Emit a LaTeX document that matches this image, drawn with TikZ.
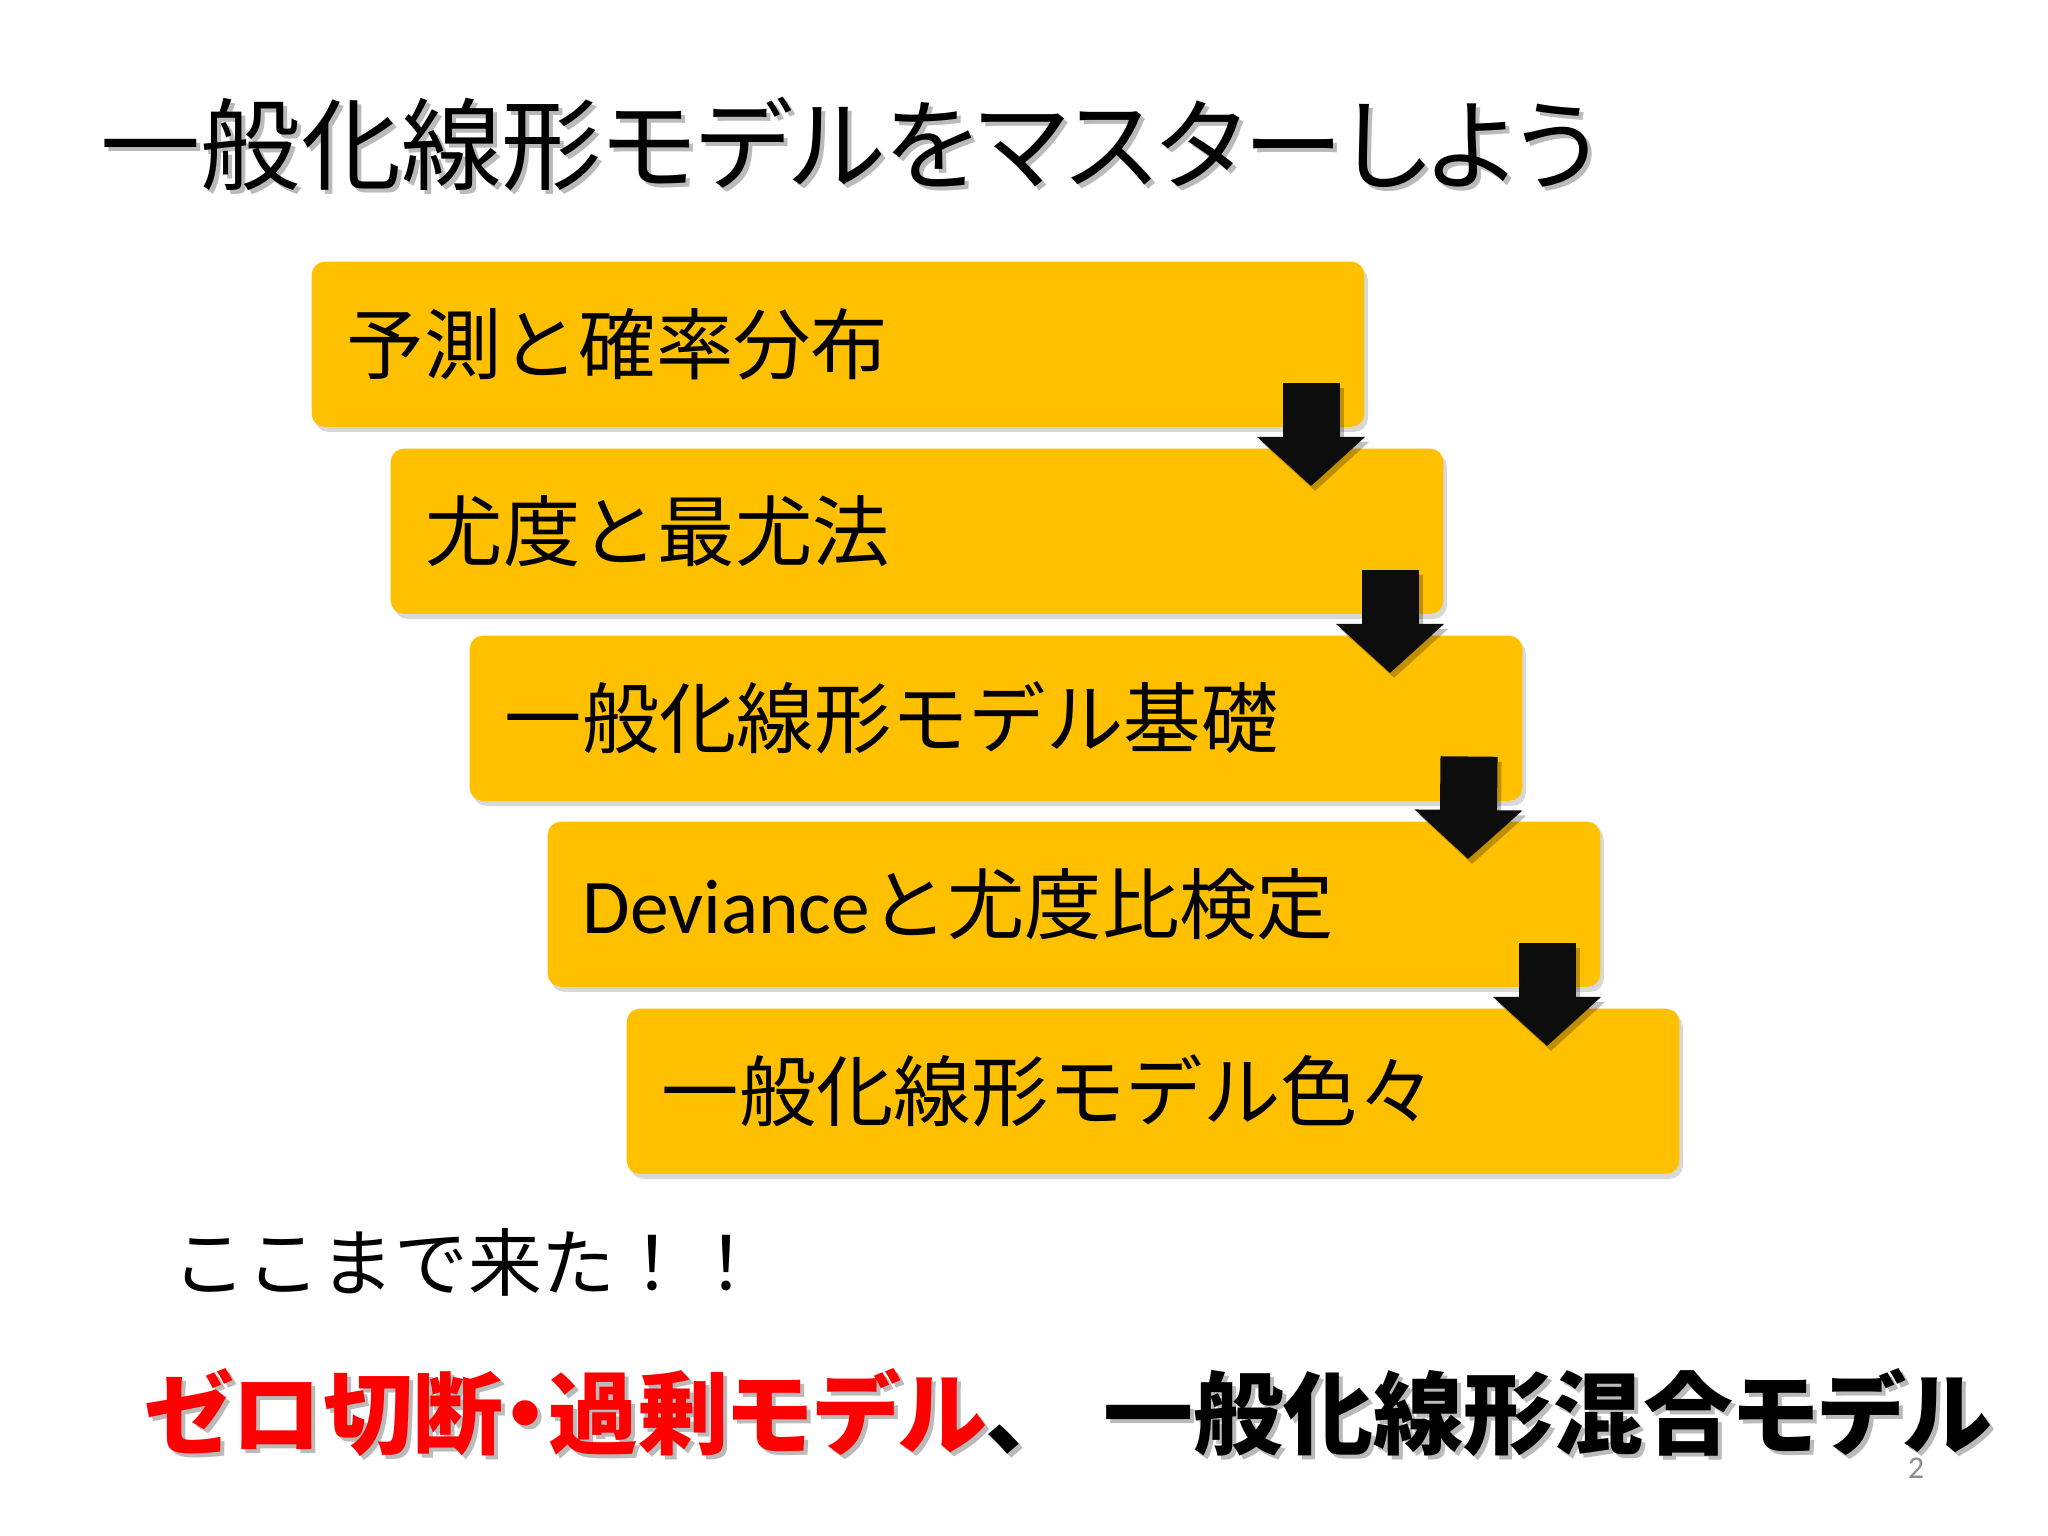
\documentclass[tikz,border=0pt]{standalone}
\usepackage{fontspec}
\setmainfont{Noto Sans CJK JP}
\newfontfamily\lat{Carlito}
\newfontfamily\pjp[RawFeature=+palt]{Noto Sans CJK JP}
\usetikzlibrary{shadows,arrows.meta,calc}
\definecolor{boxy}{HTML}{FFC000}
\definecolor{pgnum}{HTML}{8C8C8C}
\tikzset{
  stepbox/.style={fill=boxy, rounded corners=0.13cm, minimum width=10.52cm, minimum height=1.65cm,
    text width=9.82cm, inner xsep=0.35cm, inner ysep=0pt, align=left, anchor=north west,
    font=\fontsize{22}{26}\selectfont,
    drop shadow={shadow xshift=0.035cm, shadow yshift=-0.05cm, opacity=0.3}},
  blockarrow/.style={line width=0.57cm, draw=black!95, -{Triangle[length=0.49cm, width=1.05cm]}},
  arrowshadow/.style={line width=0.57cm, draw=black, opacity=0.25, -{Triangle[length=0.49cm, width=1.05cm]}},
  titletext/.style={anchor=west, inner sep=0pt, font=\pjp\fontsize{28.5}{32}\selectfont},
  shadowtext/.style={text=black!45, opacity=0.6},
  bottomtext/.style={anchor=west, inner sep=0pt, font=\pjp\fontsize{25.6}{30}\selectfont\bfseries},
}
\begin{document}
\begin{tikzpicture}[x=0.01cm,y=-0.01cm]
\useasboundingbox[fill=white] (0,0) rectangle (2048,1536);

% title
\node[titletext, shadowtext] (titleS) at (104,148) {一般化線形モデルをマスターしよう};
\node[titletext] (title) at (100,144) {一般化線形モデルをマスターしよう};

% boxes
\node[stepbox] (b1) at (311,261) {予測と確率分布};
\node[stepbox] (b2) at (390,448) {尤度と最尤法};
\node[stepbox] (b3) at (469,635) {一般化線形モデル基礎};
\node[stepbox] (b4) at (547,821) {{\lat\fontsize{22}{26}\selectfont Deviance}と尤度比検定};
\node[stepbox] (b5) at (626,1008) {一般化線形モデル色々};

% arrows
\foreach \i/\j in {1/2,2/3,3/4,4/5}{
  \coordinate (s\i) at ($(b\i.south east)+(-54,-45)$);
  \coordinate (e\i) at ($(b\j.north east)+(-133,38)$);
  \coordinate (ss\i) at ($(s\i)+(4,5)$);
  \coordinate (es\i) at ($(e\i)+(4,5)$);
  \draw[arrowshadow] (ss\i) -- (es\i);
  \draw[blockarrow] (s\i) -- (e\i);
}

% bottom texts
\node[anchor=west, inner sep=0pt, font=\fontsize{21}{25}\selectfont] (here) at (172,1262) {ここまで来た！！};

\node[bottomtext, shadowtext] (nextS) at (146,1417) {ゼロ切断・過剰モデル、\hspace{0.72cm}一般化線形混合モデル};
\node[bottomtext] (next) at (142,1413) {{\color{red}ゼロ切断・過剰モデル}、\hspace{0.72cm}一般化線形混合モデル};

\node[anchor=center, inner sep=0pt, text=pgnum, font=\lat\fontsize{9}{11}\selectfont] (pg) at (1916,1468) {2};
\end{tikzpicture}
\end{document}
